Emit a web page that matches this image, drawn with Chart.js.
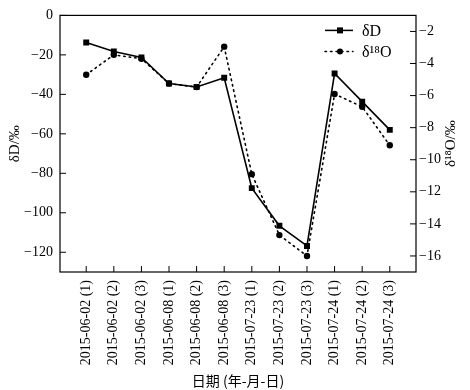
<!DOCTYPE html>
<html><head><meta charset="utf-8">
<script src="https://cdn.jsdelivr.net/npm/chart.js@4/dist/chart.umd.min.js"></script>
<style>html,body{margin:0;padding:0;background:#fff}</style>
</head><body>
<canvas id="c" width="470" height="390" style="width:470px;height:390px;display:block"></canvas>
<script>
const categories = ["2015-06-02 (1)","2015-06-02 (2)","2015-06-02 (3)","2015-06-08 (1)","2015-06-08 (2)","2015-06-08 (3)","2015-07-23 (1)","2015-07-23 (2)","2015-07-23 (3)","2015-07-24 (1)","2015-07-24 (2)","2015-07-24 (3)"];
const dD = [-13.7, -18.3, -21.3, -34.5, -36.3, -31.6, -87.5, -106.6, -116.8, -29.4, -43.7, -58.0];
const d18O = [-4.7, -3.46, -3.7, -5.25, -5.47, -2.95, -10.9, -14.7, -16.0, -5.9, -6.7, -9.1];
const leftTicks = [0, -20, -40, -60, -80, -100, -120];
const rightTicks = [-2, -4, -6, -8, -10, -12, -14, -16];
const seriesNames = ["δD", "δ¹⁸O"];
const titles = {left: "δD/‰", right: "δ¹⁸O/‰", bottom: "日期 (年-月-日)"};

const serif = "'Liberation Serif', 'Times New Roman', serif";
const minus = v => String(v).replace('-', '−');

const framePlugin = {
  id: 'frame',
  afterDraw(chart) {
    const ctx = chart.ctx, a = chart.chartArea;
    ctx.save();
    ctx.strokeStyle = '#000'; ctx.lineWidth = 1.2;
    ctx.strokeRect(a.left, a.top, a.right - a.left, a.bottom - a.top);
    const L = 6;
    ctx.lineWidth = 1;
    ctx.beginPath();
    chart.scales.x.ticks.forEach(t => { const px = chart.scales.x.getPixelForValue(t.value); ctx.moveTo(px, a.bottom); ctx.lineTo(px, a.bottom - L); });
    chart.scales.y.ticks.forEach(t => { const py = chart.scales.y.getPixelForValue(t.value); ctx.moveTo(a.left, py); ctx.lineTo(a.left + L, py); });
    chart.scales.y1.ticks.forEach(t => { const py = chart.scales.y1.getPixelForValue(t.value); ctx.moveTo(a.right, py); ctx.lineTo(a.right - L, py); });
    ctx.stroke();
    // right title, reading bottom-to-top
    ctx.font = "15px " + serif; ctx.fillStyle = '#000';
    ctx.textAlign = 'center'; ctx.textBaseline = 'middle';
    ctx.translate(a.right + 35, (a.top + a.bottom) / 2);
    ctx.rotate(-Math.PI / 2);
    ctx.fillText(titles.right, 0, 0);
    ctx.restore();
    // legend
    ctx.save();
    const lx0 = a.right - 91, lx1 = a.right - 63, mx = a.right - 76, tx = a.right - 54;
    const rows = [a.top + 15, a.top + 36];
    ctx.strokeStyle = '#000'; ctx.fillStyle = '#000';
    ctx.lineWidth = 1.5;
    ctx.beginPath(); ctx.moveTo(lx0, rows[0]); ctx.lineTo(lx1, rows[0]); ctx.stroke();
    ctx.fillRect(mx - 3, rows[0] - 3, 6, 6);
    ctx.setLineDash([1.5, 4]); ctx.lineCap = 'round';
    ctx.beginPath(); ctx.moveTo(lx0, rows[1]); ctx.lineTo(lx1, rows[1]); ctx.stroke();
    ctx.setLineDash([]);
    ctx.beginPath(); ctx.arc(mx, rows[1], 3, 0, Math.PI * 2); ctx.fill();
    ctx.font = "16px " + serif; ctx.textAlign = 'left'; ctx.textBaseline = 'middle';
    ctx.fillText(seriesNames[0], tx, rows[0] + 1);
    ctx.fillText(seriesNames[1], tx, rows[1] + 1);
    ctx.restore();
  }
};

new Chart(document.getElementById('c'), {
  type: 'line',
  data: {
    datasets: [
      {
        label: seriesNames[0], yAxisID: 'y',
        data: dD.map((v, i) => ({x: i, y: v})),
        borderColor: '#000', backgroundColor: '#000', borderWidth: 1.6,
        pointStyle: 'rect', pointRadius: 4.2, pointBorderWidth: 0, tension: 0
      },
      {
        label: seriesNames[1], yAxisID: 'y1',
        data: d18O.map((v, i) => ({x: i, y: v})),
        borderColor: '#000', backgroundColor: '#000', borderWidth: 1.6,
        borderDash: [1.5, 4], borderCapStyle: 'round',
        pointStyle: 'circle', pointRadius: 3.2, pointBorderWidth: 0, tension: 0
      }
    ]
  },
  options: {
    responsive: false, animation: false, devicePixelRatio: 1,
    layout: {padding: {top: 7, left: 0, right: 0, bottom: 0}},
    plugins: {legend: {display: false}, tooltip: {enabled: false}},
    scales: {
      x: {
        type: 'linear', position: 'bottom', min: -0.95, max: 11.95,
        afterBuildTicks: s => { s.ticks = categories.map((c, i) => ({value: i})); },
        afterFit: s => { s.height = 118; },
        grid: {display: false, drawTicks: false}, border: {display: false},
        ticks: {
          autoSkip: false, maxRotation: 90, minRotation: 90, padding: 8,
          color: '#000', font: {family: serif, size: 14},
          callback: v => categories[v]
        },
        title: {display: true, text: titles.bottom, color: '#000',
          font: {family: "'Noto Sans CJK SC', sans-serif", size: 14}, padding: {top: 0, bottom: 1}}
      },
      y: {
        position: 'left', min: -130, max: 0,
        afterBuildTicks: s => { s.ticks = leftTicks.map(v => ({value: v})); },
        afterFit: s => { s.width = 60; },
        grid: {display: false, drawTicks: false}, border: {display: false},
        ticks: {padding: 7, color: '#000', font: {family: serif, size: 14}, callback: v => minus(v)},
        title: {display: true, text: titles.left, color: '#000', font: {family: serif, size: 15}, padding: {top: 6, bottom: 0}}
      },
      y1: {
        position: 'right', min: -17, max: -1,
        afterBuildTicks: s => { s.ticks = rightTicks.map(v => ({value: v})); },
        afterFit: s => { s.width = 54; },
        grid: {display: false, drawTicks: false}, border: {display: false},
        ticks: {padding: 3, color: '#000', font: {family: serif, size: 14}, callback: v => minus(v)}
      }
    }
  },
  plugins: [framePlugin]
});
</script>
</body></html>
